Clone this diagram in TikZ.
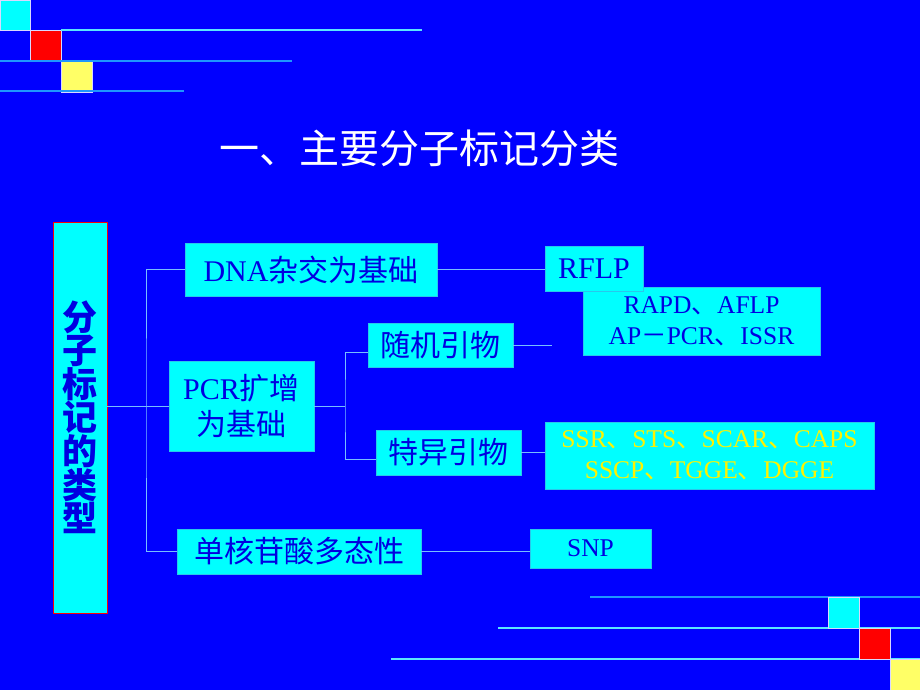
\documentclass[tikz,border=0pt]{standalone}
\usepackage{fontspec}
\setmainfont{Liberation Serif}
\newfontfamily\cjk{Noto Sans CJK SC}
\usepackage{tikz}
\usetikzlibrary{calc}

\definecolor{bgblue}{RGB}{0,0,255}
\definecolor{boxcyan}{RGB}{0,255,255}
\definecolor{boxedge}{RGB}{40,200,235}
\definecolor{inkblue}{RGB}{0,0,225}
\definecolor{wirecol}{RGB}{120,190,255}
\definecolor{decocyan}{RGB}{90,230,255}
\definecolor{decoblue}{RGB}{30,150,255}
\definecolor{decoyellow}{RGB}{255,255,102}

\begin{document}
\begin{tikzpicture}[x=1pt, y=-1pt,
    box/.style={fill=boxcyan, draw=boxedge, line width=0.6pt, inner sep=0pt,
      text=inkblue, align=center, font=\fontsize{30}{36}\selectfont},
    smallbox/.style={box, font=\fontsize{25.5}{31}\selectfont},
    wire/.style={draw=wirecol, line width=1pt},
    tile/.style={draw=white!85!blue, line width=0.5pt}]
  % Background
  \fill[bgblue] (0,0) rectangle (920,690);
  \useasboundingbox (0,0) rectangle (920,690);

  % Corner tiles and rules
  \fill[boxcyan, tile] (0,0) rectangle (30,30);
  \fill[red, tile] (30,30) rectangle (61,61);
  \fill[decoyellow, tile] (61,61) rectangle (92,92);
  \draw[decocyan, line width=1.2pt] (61,30) -- (422,30);
  \draw[decoblue, line width=1.5pt] (0,61) -- (292,61);
  \draw[decoblue, line width=1.5pt] (0,91) -- (184,91);

  \draw[decoblue, line width=1.5pt] (590,597) -- (920,597);
  \draw[decocyan, line width=1.2pt] (498,628) -- (920,628);
  \draw[decocyan, line width=1.2pt] (391,659) -- (920,659);
  \fill[boxcyan, tile] (828,597) rectangle (859,628);
  \fill[red, tile] (859,628) rectangle (890,659);
  \fill[decoyellow, tile] (890,659) rectangle (920,690);

  % Title
  \node[text=white, font=\fontsize{40}{46}\selectfont\cjk] (title) at (419,148) {一、主要分子标记分类};

  % Nodes
  % Root
  \node[box, draw=red, minimum width=54pt, minimum height=391pt,
    font=\fontsize{35}{33}\selectfont\cjk\bfseries] (types) at (80,417.5)
    {分\\子\\标\\记\\的\\类\\型};

  % Hybridisation
  \node[box, minimum width=252pt, minimum height=53pt] (hyb) at (311,269.5) {DNA{\cjk 杂交为基础}};
  \node[smallbox, minimum width=237pt, minimum height=68pt] (rapd) at (701.5,321)
    {RAPD{\cjk 、}AFLP\\AP{\cjk －}PCR{\cjk 、}ISSR};
  \node[box, minimum width=98pt, minimum height=45pt] (rflp) at (594,268.5) {RFLP};

  % PCR
  \node[box, minimum width=145pt, minimum height=90pt] (pcr) at (241.5,406) {PCR{\cjk 扩增}\\{\cjk 为基础}};
  \node[box, minimum width=145pt, minimum height=44pt] (rand) at (440.5,345) {\cjk 随机引物};
  \node[box, minimum width=145pt, minimum height=45pt] (spec) at (448.5,452.5) {\cjk 特异引物};
  \node[smallbox, text=yellow, minimum width=329pt, minimum height=67pt] (ssr) at (709.5,455.5)
    {SSR{\cjk 、}STS{\cjk 、}SCAR{\cjk 、}CAPS\\SSCP{\cjk 、}TGGE{\cjk 、}DGGE};

  % SNP
  \node[box, minimum width=244pt, minimum height=45pt] (poly) at (299,551.5) {\cjk 单核苷酸多态性};
  \node[smallbox, minimum width=121pt, minimum height=39pt] (snp) at (590.5,548.5) {SNP};

  % Lines
  \coordinate (trunk) at (146,406);
  \coordinate (fork) at (345,406);
  \coordinate (randend) at (552,345);

  \draw[wire] (types.east |- pcr.west) -- (pcr.west);
  \draw[wire] (hyb.west) -| (trunk) |- (poly.west);
  \draw[wire] (pcr.east) -- (fork);
  \draw[wire] ([yshift=-7pt]rand.west) -| (fork) |- ([yshift=-7pt]spec.west);

  \draw[wire] (hyb.east) -- (hyb.east -| rflp.west);
  \draw[wire] (rand.east) -- (randend);
  \draw[wire] (spec.east) -- (spec.east -| ssr.west);
  \draw[wire] (poly.east) -- (poly.east -| snp.west);

\end{tikzpicture}
\end{document}
